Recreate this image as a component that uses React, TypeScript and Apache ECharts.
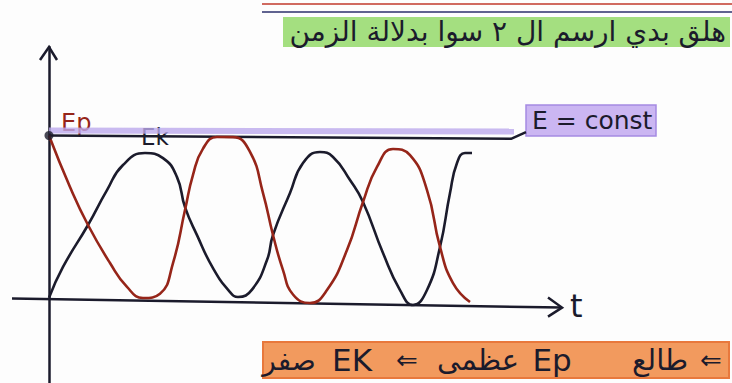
import React, { useEffect, useRef } from "react";
import * as echarts from "echarts";

// Potential energy Ep over time: [t, E]
const epPoints: [number, number][] = [
  [0, 10], [4.2, 6.86], [7.8, 4.54], [12.2, 2.22], [15.6, 0.76], [18.8, 0.09],
  [22.2, 0.35], [24.8, 2.22], [27.2, 5.45], [28.8, 7.6], [30.8, 9.2], [33.6, 9.91],
  [36.8, 9.9], [40.2, 9.0], [42.8, 6.49], [44.8, 3.93], [46.8, 1.79], [48.8, 0.3],
  [52.2, -0.22], [55.6, 0.57], [59.6, 3.01], [62.8, 5.94], [65.6, 8.08], [68.8, 9.18],
  [72.2, 8.8], [75.6, 6.67], [78.2, 3.2], [80.8, 1.0], [84.2, -0.16],
];

// Kinetic energy Ek over time: [t, E]
const ekPoints: [number, number][] = [
  [0, 0.1], [2.8, 1.98], [7.8, 4.54], [11.6, 6.67], [14.8, 8.2], [19.2, 8.93],
  [22.8, 8.62], [25.6, 7.46], [27.2, 5.63], [29.6, 3.92], [32.8, 1.91], [36.2, 0.45],
  [37.8, 0.15], [40.6, 0.6], [43.6, 2.4], [44.8, 3.93], [48.2, 6.49], [50.8, 8.32],
  [54.2, 8.99], [56.8, 8.69], [60.2, 7.28], [62.8, 5.94], [66.8, 2.83], [70.2, 0.57],
  [72.8, -0.34], [75.6, 0.57], [78.2, 3.2], [80.2, 6.49], [81.6, 8.32], [83.2, 8.93],
  [84.6, 8.93],
];

// Total energy E = const
const energyLine: [number, number][] = [[0, 10], [92.4, 9.8], [95.4, 10.2]];
const energyHighlight: [number, number][] = [[0, 10.3], [93, 10.25]];
const startPoint: [number, number][] = [[0, 10]];

// Time axis, drawn as a hand-ruled line
const timeAxisLine: [number, number][] = [[-7.4, 0.05], [102.6, -0.5]];

const T_MIN = -7.4;
const T_MAX = 104.6;
const E_MIN = -5.1;
const E_MAX = 15.4;

const titleText = "هلق بدي ارسم ال ٢ سوا بدلالة الزمن";
const constText = "E = const";
const epLabel = "Ep";
const ekLabel = "Ek";
const timeLabel = "t";
const noteWords = ["صفر", "EK", "⇐", "عظمى", "Ep", "طالع", "⇐"];

const RED = "#962519";
const INK = "#1b1b2c";
const FONT = "DejaVu Sans";

export default function App() {
  const ref = useRef<HTMLDivElement>(null);

  useEffect(() => {
    if (!ref.current) return;
    const chart = echarts.init(ref.current, undefined, { renderer: "svg" });

    chart.setOption({
      animation: false,
      backgroundColor: "#fdfdfd",
      grid: { left: 12, right: 160, top: 47, bottom: 0 },
      xAxis: {
        type: "value",
        min: T_MIN,
        max: T_MAX,
        axisLine: { show: false },
        axisTick: { show: false },
        axisLabel: { show: false },
        splitLine: { show: false },
      },
      yAxis: {
        type: "value",
        min: E_MIN,
        max: E_MAX,
        axisLine: { show: true, onZero: true, lineStyle: { color: INK, width: 2.5 } },
        axisTick: { show: false },
        axisLabel: { show: false },
        splitLine: { show: false },
      },
      series: [
        {
          name: "highlight",
          type: "line",
          data: energyHighlight,
          symbol: "none",
          lineStyle: { color: "#bca9ec", width: 6, opacity: 0.8 },
          z: 1,
        },
        {
          name: "E",
          type: "line",
          data: energyLine,
          symbol: "none",
          lineStyle: { color: INK, width: 2.5 },
          z: 3,
        },
        {
          name: "t",
          type: "line",
          data: timeAxisLine,
          symbol: "none",
          lineStyle: { color: INK, width: 2.5 },
          z: 3,
        },
        {
          name: "Ek",
          type: "line",
          data: ekPoints,
          symbol: "none",
          smooth: 0.5,
          lineStyle: { color: INK, width: 2.6 },
          z: 4,
        },
        {
          name: "Ep",
          type: "line",
          data: epPoints,
          symbol: "none",
          smooth: 0.5,
          lineStyle: { color: RED, width: 2.6 },
          z: 5,
        },
        {
          name: "start",
          type: "scatter",
          data: startPoint,
          symbolSize: 9,
          itemStyle: { color: INK },
          z: 6,
        },
      ],
    });

    const px = (p: [number, number]) => chart.convertToPixel({ gridIndex: 0 }, p) as number[];
    const yTop = px([0, E_MAX]);
    const xEnd = px(timeAxisLine[timeAxisLine.length - 1]);
    const start = px(startPoint[0]);
    const ekPeak = px(ekPoints[5]);
    const eEnd = px(energyLine[energyLine.length - 1]);

    const noteCenters = [289, 352, 407, 478, 552, 660, 711];
    const noteSizes = [28, 31, 26, 29, 31, 29, 26];

    chart.setOption({
      graphic: [
        // notebook rule lines
        { type: "line", shape: { x1: 262, y1: 4, x2: 732, y2: 4 }, style: { stroke: "#c0392b", lineWidth: 1.5 } },
        { type: "line", shape: { x1: 262, y1: 12, x2: 732, y2: 12 }, style: { stroke: "#2b2f6b", lineWidth: 1.5 } },
        // title strip
        { type: "rect", shape: { x: 283, y: 17, width: 447, height: 30 }, style: { fill: "#a4df80" } },
        {
          type: "text",
          x: 726,
          y: 31,
          style: { text: titleText, fontFamily: FONT, fontSize: 28, fill: INK, align: "right", verticalAlign: "middle" },
        },
        // E = const tag
        {
          type: "rect",
          shape: { x: eEnd[0], y: 105, width: 130, height: 31 },
          style: { fill: "#cbb6f2", stroke: "#a58be2", lineWidth: 1.5 },
        },
        {
          type: "text",
          x: eEnd[0] + 6,
          y: 120,
          style: { text: constText, fontFamily: FONT, fontSize: 25, fill: INK, align: "left", verticalAlign: "middle" },
        },
        // curve labels
        {
          type: "text",
          x: start[0] + 12,
          y: start[1] - 25,
          style: { text: epLabel, fontFamily: FONT, fontSize: 24, fill: RED, align: "left", verticalAlign: "top" },
        },
        {
          type: "text",
          x: ekPeak[0] - 4,
          y: ekPeak[1] - 28,
          style: { text: ekLabel, fontFamily: FONT, fontSize: 23, fill: INK, align: "left", verticalAlign: "top" },
        },
        // axis arrowheads
        {
          type: "polyline",
          shape: { points: [[yTop[0] - 9, yTop[1] + 13], [yTop[0], yTop[1]], [yTop[0] + 8, yTop[1] + 13]] },
          style: { stroke: INK, lineWidth: 2.5, fill: "none" },
        },
        {
          type: "polyline",
          shape: { points: [[xEnd[0] - 14, xEnd[1] - 10], [xEnd[0], xEnd[1]], [xEnd[0] - 14, xEnd[1] + 9]] },
          style: { stroke: INK, lineWidth: 2.5, fill: "none" },
        },
        {
          type: "text",
          x: xEnd[0] + 8,
          y: xEnd[1] - 2,
          style: { text: timeLabel, fontFamily: FONT, fontSize: 32, fill: INK, align: "left", verticalAlign: "middle" },
        },
        // note strip
        {
          type: "rect",
          shape: { x: 263, y: 342, width: 466, height: 36 },
          style: { fill: "#f29a5e", stroke: "#e8783c", lineWidth: 2 },
        },
        ...noteWords.map((w, i) => ({
          type: "text",
          x: noteCenters[i],
          y: 360,
          style: { text: w, fontFamily: FONT, fontSize: noteSizes[i], fill: INK, align: "center", verticalAlign: "middle" },
        })),
      ],
    });

    return () => chart.dispose();
  }, []);

  return <div ref={ref} style={{ position: "fixed", left: 0, top: 0, width: 732, height: 383 }} />;
}
